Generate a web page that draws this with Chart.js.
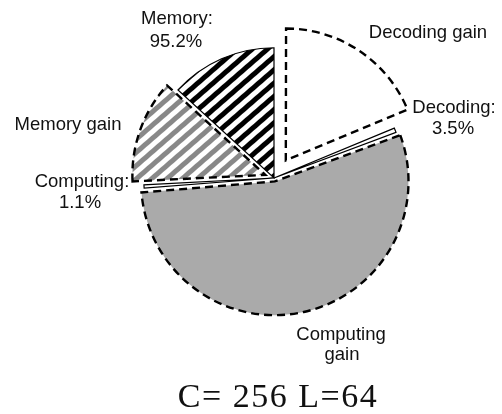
<!DOCTYPE html>
<html>
<head>
<meta charset="utf-8">
<script src="https://cdn.jsdelivr.net/npm/chart.js@4/dist/chart.umd.min.js"></script>
<style>
  html, body { margin: 0; padding: 0; background: #fff; }
  #wrap { position: relative; width: 502px; height: 414px; }
</style>
</head>
<body>
<div id="wrap"><canvas id="c"></canvas></div>
<script>
// Slices in clockwise order from 12 o'clock (angular sizes in degrees)
const categories = ['Decoding gain', 'Decoding', 'Computing gain', 'Computing', 'Memory gain', 'Memory'];
const sliceValues = [67.5, 2.0, 196.0, 1.5, 45.5, 47.5];
const shareLabels = [null, '3.5%', null, '1.1%', null, '95.2%'];
const isGain = [true, false, true, false, true, false];
const explode = [85, 0, 14, 0, 37, 0];
const chartTitle = 'C= 256 L=64';

const canvas = document.getElementById('c');
const ctx0 = canvas.getContext('2d');

function stripePattern(color, thick, period, angle) {
  const t = document.createElement('canvas');
  t.width = 8; t.height = period;
  const g = t.getContext('2d');
  g.fillStyle = '#ffffff'; g.fillRect(0, 0, t.width, t.height);
  g.fillStyle = color; g.fillRect(0, 0, t.width, thick);
  const p = ctx0.createPattern(t, 'repeat');
  p.setTransform(new DOMMatrix().rotate(angle));
  return p;
}
const memPattern = stripePattern('#000000', 5, 10, -41);
const memGainPattern = stripePattern('#888888', 5, 10, -41);
const fills = ['#ffffff', '#ffffff', '#aaaaaa', '#ffffff', memGainPattern, memPattern];

const labelPlugin = {
  id: 'labels',
  afterDraw(chart) {
    const c = chart.ctx;
    c.save();
    c.fillStyle = '#111111';
    c.font = '18.5px "Liberation Sans", Arial, sans-serif';
    c.textAlign = 'center';
    c.textBaseline = 'middle';
    const put = (t, x, y) => c.fillText(t, x, y);
    put(categories[5] + ':', 177, 19);
    put(shareLabels[5], 176, 42);
    put(categories[0], 428, 33);
    put(categories[1] + ':', 454, 108);
    put(shareLabels[1], 453, 129);
    put(categories[4], 68, 125);
    put(categories[3] + ':', 82, 182);
    put(shareLabels[3], 80, 203);
    const cg = categories[2].split(' ');
    put(cg[0], 341, 335);
    put(cg[1], 342, 355);
    c.font = '34px "Liberation Serif", "Times New Roman", serif';
    if ('letterSpacing' in c) c.letterSpacing = '1.5px';
    c.textBaseline = 'alphabetic';
    put(chartTitle, 278, 407);
    c.restore();
  }
};

new Chart(canvas, {
  type: 'pie',
  data: {
    labels: categories,
    datasets: [{
      data: sliceValues,
      backgroundColor: fills,
      borderColor: '#000000',
      borderWidth: isGain.map(g => g ? 2.4 : 1.2),
      borderDash: (ctx) => isGain[ctx.dataIndex] ? [8, 5] : [],
      offset: explode,
      hoverOffset: 0,
      borderJoinStyle: 'miter'
    }]
  },
  options: {
    responsive: true,
    maintainAspectRatio: false,
    animation: false,
    layout: { padding: { left: 60, right: 14, top: 4.05, bottom: 62.05 } },
    plugins: {
      legend: { display: false },
      tooltip: { enabled: false },
      title: { display: false }
    },
    events: []
  },
  plugins: [labelPlugin]
});
</script>
</body>
</html>
